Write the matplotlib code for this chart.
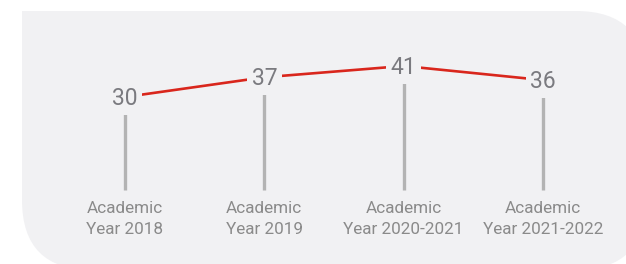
import matplotlib.pyplot as plt
from matplotlib.patches import FancyBboxPatch, Rectangle
import matplotlib.transforms as mtransforms

# Chart data
categories = ["Academic\nYear 2018", "Academic\nYear 2019",
              "Academic\nYear 2020-2021", "Academic\nYear 2021-2022"]
values = [30, 37, 41, 36]

panel_color = "#f1f1f3"
red = "#d9261c"
stem_color = "#b3b3b3"
value_color = "#7a7a7f"
label_color = "#8a8a8a"

plt.rcParams['font.family'] = ['Roboto', 'DejaVu Sans']

fig = plt.figure(figsize=(6.26, 2.64), dpi=100)
fig.patch.set_facecolor("white")

# Background panel in pixel coordinates
bg = fig.add_axes([0, 0, 1, 1])
bg.set_xlim(0, 626)
bg.set_ylim(264, 0)
bg.axis("off")
bg.add_patch(FancyBboxPatch((22, 11), 624, 259,
                            boxstyle="round,pad=0,rounding_size=70",
                            facecolor=panel_color, edgecolor="none"))
bg.add_patch(Rectangle((22, 11), 90, 90, facecolor=panel_color, edgecolor="none"))

# Chart axes
ax = fig.add_axes([0, 0, 1, 1])
ax.patch.set_alpha(0)
ax.axis("off")
px_x = 139.33
ax.set_xlim(-125 / px_x, (626 - 125) / px_x)
px_y = 2.82
ax.set_ylim(30 - (264 - 97) / px_y, 30 + 97 / px_y)

x = list(range(len(values)))
stem_bottom = 30 - (190 - 97) / px_y
for xi, v in zip(x, values):
    ax.plot([xi, xi], [stem_bottom, v - 13 / px_y], color=stem_color,
            lw=2.4, solid_capstyle="butt", zorder=1)

ax.plot(x, values, color=red, lw=1.9, zorder=2)

for xi, v in zip(x, values):
    ax.text(xi, v - 1.5 / px_y, str(v), ha="center", va="center", fontsize=16.5,
            color=value_color, zorder=3,
            bbox=dict(boxstyle="square,pad=0.2", facecolor=panel_color,
                      edgecolor="none"))

trans = mtransforms.blended_transform_factory(ax.transData, ax.transAxes)
for xi, cat in zip(x, categories):
    ax.text(xi, 1 - 219 / 264, cat, transform=trans, ha="center", va="center",
            fontsize=12.3, color=label_color, linespacing=1.5)

fig.savefig("out.png", dpi=100, facecolor=fig.get_facecolor())
